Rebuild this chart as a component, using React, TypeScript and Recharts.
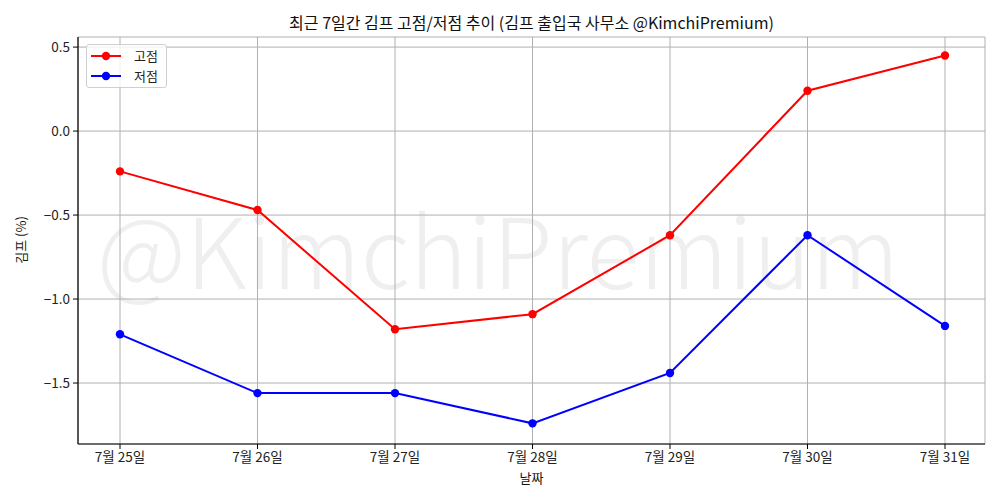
import React from 'react';
import { LineChart, Line, XAxis, YAxis, CartesianGrid } from 'recharts';

const dates = ['7월 25일', '7월 26일', '7월 27일', '7월 28일', '7월 29일', '7월 30일', '7월 31일'];
const highs = [-0.24, -0.47, -1.18, -1.09, -0.62, 0.24, 0.45];
const lows = [-1.21, -1.56, -1.56, -1.74, -1.44, -0.62, -1.16];
const yTicks = [0.5, 0, -0.5, -1, -1.5];

const data = dates.map((d, i) => ({ date: d, high: highs[i], low: lows[i] }));

const FONT = '"Noto Sans CJK KR", "Noto Sans", sans-serif';

const fmt = (v: number) => (v < 0 ? '\u2212' + Math.abs(v).toFixed(1) : v.toFixed(1));

const LegendBox = () => (
  <div
    style={{
      position: 'absolute',
      left: 86,
      top: 44,
      border: '1px solid #d0d0d0',
      borderRadius: 3,
      background: 'rgba(255,255,255,0.8)',
      padding: '1px 8px 1px 4px',
      fontSize: 13,
      fontFamily: FONT,
      lineHeight: '20px',
    }}
  >
    {[
      { name: '고점', color: '#ff0000' },
      { name: '저점', color: '#0000ff' },
    ].map((it) => (
      <div key={it.name} style={{ display: 'flex', alignItems: 'center' }}>
        <svg width={30} height={12} style={{ marginRight: 13 }}>
          <line x1={0} y1={6} x2={30} y2={6} stroke={it.color} strokeWidth={2} />
          <circle cx={15} cy={6} r={4.2} fill={it.color} />
        </svg>
        <span style={{ color: '#222' }}>{it.name}</span>
      </div>
    ))}
  </div>
);

export default function App() {
  return (
    <div style={{ position: 'absolute', left: 0, top: 0, width: 1000, height: 500, background: '#fff', fontFamily: FONT }}>
      <div
        style={{
          position: 'absolute',
          left: 0,
          width: 996,
          top: 184,
          textAlign: 'center',
          fontSize: 98,
          color: '#efefef',
          fontFamily: FONT,
          fontWeight: 300,
          lineHeight: '124px',
        }}
      >
        @KimchiPremium
      </div>
      <div
        style={{
          position: 'absolute',
          left: 78,
          width: 907,
          top: 10,
          textAlign: 'center',
          fontSize: 16,
          color: '#111',
        }}
      >
        최근 7일간 김프 고점/저점 추이 (김프 출입국 사무소 @KimchiPremium)
      </div>
      <div
        style={{
          position: 'absolute',
          left: 78,
          width: 907,
          top: 468,
          textAlign: 'center',
          fontSize: 13,
          color: '#111',
        }}
      >
        날짜
      </div>
      <div
        style={{
          position: 'absolute',
          left: 20,
          top: 240,
          transform: 'translate(-50%, -50%) rotate(-90deg)',
          fontSize: 13,
          color: '#111',
          whiteSpace: 'nowrap',
        }}
      >
        김프 (%)
      </div>
      <div style={{ position: 'absolute', left: 0, top: 0 }}>
        <LineChart width={1000} height={500} data={data} margin={{ top: 37, right: 15, bottom: 0, left: 0 }}>
          <CartesianGrid stroke="#b0b0b0" strokeWidth={1} />
          <XAxis
            dataKey="date"
            padding={{ left: 42, right: 40 }}
            height={56}
            tickSize={5}
            tickMargin={3}
            stroke="#000"
            tick={{ fill: '#222', fontSize: 13.5, fontFamily: FONT }}
            tickLine={{ stroke: '#000' }}
            axisLine={{ stroke: '#000', strokeWidth: 1.2 }}
          />
          <XAxis
            xAxisId="top"
            orientation="top"
            dataKey="date"
            height={0}
            tick={false}
            tickLine={false}
            axisLine={{ stroke: '#000', strokeWidth: 1.2 }}
          />
          <YAxis
            type="number"
            domain={[-1.863, 0.56]}
            ticks={yTicks}
            width={78}
            tickSize={5}
            tickMargin={3}
            tickFormatter={fmt}
            allowDataOverflow
            tick={{ fill: '#222', fontSize: 13.5, fontFamily: FONT }}
            tickLine={{ stroke: '#000' }}
            axisLine={{ stroke: '#000', strokeWidth: 1.2 }}
          />
          <YAxis
            yAxisId="right"
            orientation="right"
            width={0}
            domain={[-1.863, 0.56]}
            tick={false}
            tickLine={false}
            axisLine={{ stroke: '#000', strokeWidth: 1.2 }}
          />
          <Line
            dataKey="high"
            name="고점"
            stroke="#ff0000"
            strokeWidth={2}
            dot={{ r: 4.2, fill: '#ff0000', stroke: '#ff0000', strokeWidth: 0 }}
            activeDot={false}
            isAnimationActive={false}
          />
          <Line
            dataKey="low"
            name="저점"
            stroke="#0000ff"
            strokeWidth={2}
            dot={{ r: 4.2, fill: '#0000ff', stroke: '#0000ff', strokeWidth: 0 }}
            activeDot={false}
            isAnimationActive={false}
          />
        </LineChart>
      </div>
      <LegendBox />
    </div>
  );
}
